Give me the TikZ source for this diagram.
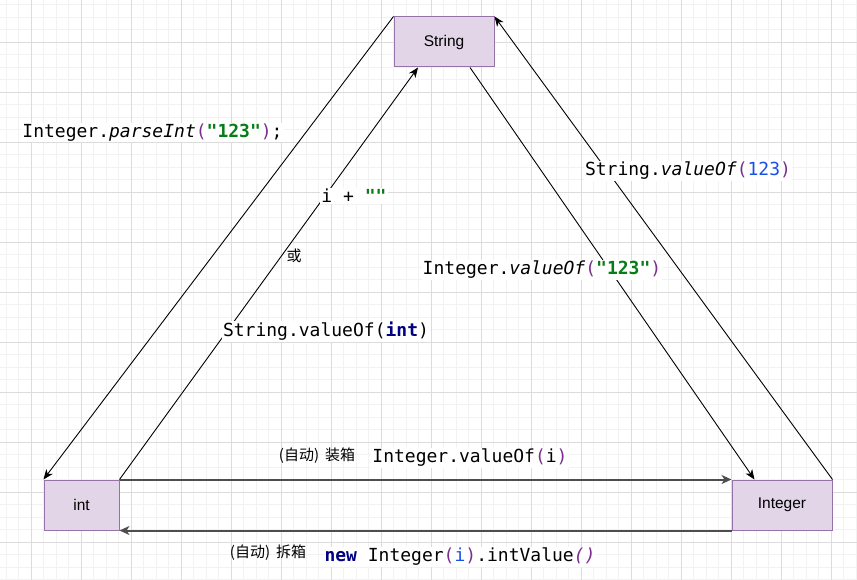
\documentclass[tikz,border=0pt]{standalone}
\usepackage{fontspec}
\setmainfont{Liberation Sans}
\setmonofont{DejaVu Sans Mono}
\newfontfamily\cjk{Noto Sans CJK SC}
\usetikzlibrary{arrows.meta}
\definecolor{boxfill}{HTML}{E1D5E7}
\definecolor{boxborder}{HTML}{9673A6}
\definecolor{cparen}{HTML}{7A2E8E}
\definecolor{cgreen}{HTML}{067D17}
\definecolor{cblue}{HTML}{1750EB}
\definecolor{cnavy}{HTML}{000080}
\definecolor{gridminor}{HTML}{F2F2F2}
\definecolor{gridmajor}{HTML}{DCDCDC}
\definecolor{hline}{HTML}{4D4D4D}
\newcommand\cpar[1]{\textcolor{cparen}{#1}}
\newcommand\cstr[1]{\textcolor{cgreen}{\bfseries #1}}
\newcommand\cnum[1]{\textcolor{cblue}{#1}}
\newcommand\ckw[1]{\textcolor{cnavy}{\bfseries #1}}
\tikzset{
  typebox/.style={draw=boxborder, fill=boxfill, line width=1pt, minimum height=50pt, inner sep=0pt, font=\fontsize{15.5}{18}\selectfont},
  codelabel/.style={fill=white, inner sep=1pt, font=\ttfamily\fontsize{18}{22}\selectfont},
  cjklabel/.style={inner sep=1pt, font=\cjk\fontsize{15}{17}\selectfont},
  thinarrow/.style={draw=black, line width=0.9pt, -{Stealth[length=10pt,width=8pt,inset=3pt]}},
  thickarrow/.style={draw=hline, line width=2pt, -{Stealth[length=10pt,width=9pt,inset=3pt]}}
}
\begin{document}
\begin{tikzpicture}[x=1pt,y=-1pt]
\useasboundingbox (0,0) rectangle (857,580);
\fill[white] (0,0) rectangle (857,580);
% grid
\foreach \i in {0,...,68} { \draw[gridminor, line width=0.8pt] ({6+12.5*\i},0) -- ({6+12.5*\i},580); }
\foreach \i in {0,...,46} { \draw[gridminor, line width=0.8pt] (0,{4.5+12.5*\i}) -- (857,{4.5+12.5*\i}); }
\foreach \i in {0,...,16} { \draw[gridmajor, line width=0.8pt] ({31+50*\i},0) -- ({31+50*\i},580); }
\foreach \i in {0,...,10} { \draw[gridmajor, line width=0.8pt] (0,{42+50*\i}) -- (857,{42+50*\i}); }

% nodes
\node[typebox, minimum width=100pt] (str) at (444,42) {String};
\node[typebox, minimum width=75pt] (int) at (81.5,505) {int};
\node[typebox, minimum width=100pt] (integer) at (782,505) {Integer};

% connectors
\draw[thinarrow] (str.north west) -- (int.north west);
\draw[thinarrow] (int.north east) -- ([xshift=-26pt]str.south);
\draw[thinarrow] ([xshift=26pt]str.south) -- ([xshift=23pt]integer.north west);
\draw[thinarrow] (integer.north east) -- (str.north east);
\draw[thickarrow] (int.north east) -- (integer.north west);
\draw[thickarrow] (integer.south west) -- (int.south east);

% labels
\node[codelabel] (l1) at (152.5,132.5) {Integer.\textit{parseInt}\cpar{(}\cstr{"123"}\cpar{)};};
\node[codelabel] (l2) at (354,196) {i + \cstr{""}};
\node[cjklabel] (l3) at (294,256) {或};
\node[codelabel] (l4) at (326,331.5) {String.valueOf(\ckw{int})};
\node[codelabel] (l5) at (542,270) {Integer.\textit{valueOf}\cpar{(}\cstr{"123"}\cpar{)}};
\node[codelabel] (l6) at (688,171) {String.\textit{valueOf}\cpar{(}\cnum{123}\cpar{)}};
\node[cjklabel] (l7) at (317,456) {(自动)\hspace{6pt}装箱};
\node[codelabel] (l8) at (470,458) {Integer.valueOf\cpar{(}i\cpar{)}};
\node[cjklabel] (l9) at (268,553) {(自动)\hspace{6pt}拆箱};
\node[codelabel] (l10) at (460,557) {\ckw{new} Integer\cpar{(}\cnum{i}\cpar{)}.intValue\cpar{\textit{()}}};
\end{tikzpicture}
\end{document}
